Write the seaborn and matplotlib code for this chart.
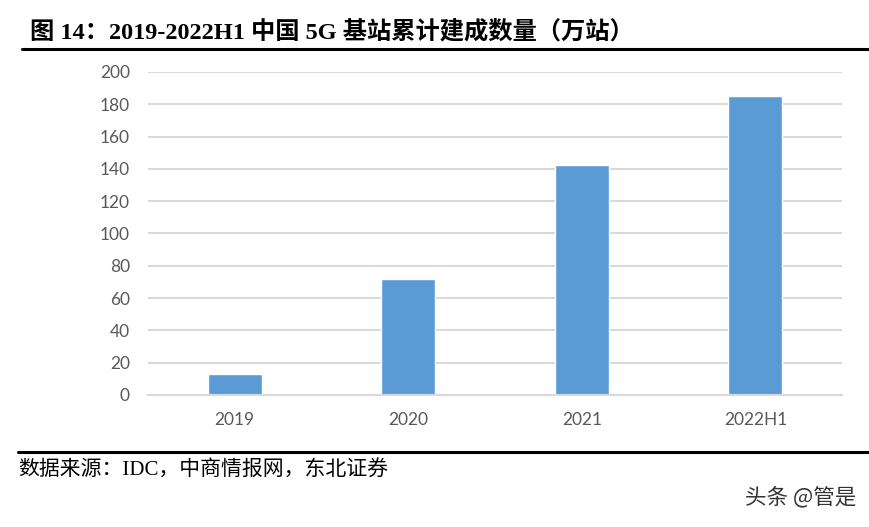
import matplotlib
matplotlib.use("Agg")
import matplotlib.pyplot as plt
import seaborn as sns
import pandas as pd
from matplotlib.lines import Line2D

categories = ["2019", "2020", "2021", "2022H1"]
values = [13.0, 71.8, 142.5, 185.4]
yticks = [0, 20, 40, 60, 80, 100, 120, 140, 160, 180, 200]

title_text = "图 14：2019-2022H1 中国 5G 基站累计建成数量（万站）"
source_text = "数据来源：IDC，中商情报网，东北证券"
watermark_text = "头条 @管是"

sns.set_theme(style="white")
plt.rcParams['font.family'] = ['Lato', 'Noto Sans CJK SC', 'DejaVu Sans']

df = pd.DataFrame({"year": categories, "value": values})

fig = plt.figure(figsize=(8.7, 5.27), dpi=100)
ax = fig.add_axes([0.170, 0.2505, 0.798, 0.6129])

sns.barplot(data=df, x="year", y="value", color="#5B9BD5", width=0.31,
            saturation=1, ax=ax, zorder=3)

ax.set_xlim(-0.5, 3.5)
ax.set_ylim(0, 200)
ax.set_yticks(yticks)
ax.set_yticklabels([str(t) for t in yticks])
ax.yaxis.grid(True, color="#D9D9D9", linewidth=1.5, zorder=0)
ax.set_axisbelow(True)
for s in ["top", "right", "left"]:
    ax.spines[s].set_visible(False)
ax.spines["bottom"].set_color("#D9D9D9")
ax.spines["bottom"].set_linewidth(1.5)
ax.spines["bottom"].set_zorder(4)
ax.set_xlabel("")
ax.set_ylabel("")
ax.tick_params(axis="both", length=0, labelsize=12.5, labelcolor="#595959")
ax.tick_params(axis="y", pad=13)
ax.tick_params(axis="x", pad=12)

serif_cjk = ['Liberation Serif', 'Noto Sans CJK SC']
fig.text(30/870, 1 - 32/527, title_text, fontsize=17.5, fontweight="bold",
         family=serif_cjk, va="center", ha="left", color="#000000")
fig.add_artist(Line2D([22/870, 1.0], [1 - 49/527, 1 - 49/527],
                      transform=fig.transFigure, color="black", linewidth=2.2))
fig.add_artist(Line2D([18/870, 1.0], [1 - 452/527, 1 - 452/527],
                      transform=fig.transFigure, color="black", linewidth=2.2))
fig.text(18/870, 1 - 470/527, source_text, fontsize=15,
         family=serif_cjk, va="center", ha="left", color="#000000")
fig.text(856/870, 1 - 497/527, watermark_text, fontsize=15.5,
         family=['Noto Sans CJK SC', 'DejaVu Sans'], va="center", ha="right",
         color="#333333")

fig.savefig("out.png", dpi=100)
